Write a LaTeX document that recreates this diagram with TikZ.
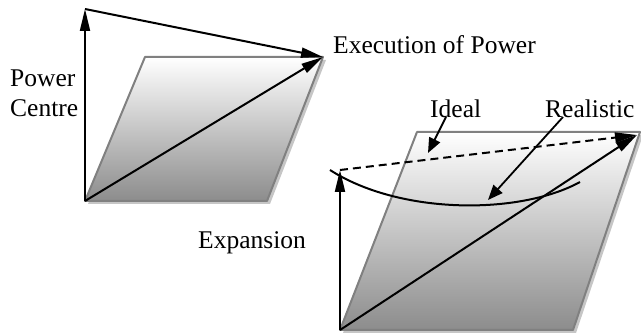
\documentclass[tikz,border=0pt]{standalone}
\usepackage{fontspec}
\setmainfont{Liberation Serif}
\usetikzlibrary{arrows.meta}

\begin{document}
\begin{tikzpicture}[
  x=1pt,y=-1pt,
  >={Triangle[length=22pt,width=10pt]},
  every node/.style={font=\fontsize{25.5}{30}\selectfont,inner sep=0pt},
  vec/.style={->,line width=2pt},
  pointer/.style={-{Triangle[length=15pt,width=12pt]},line width=1.8pt},
  plate/.style={draw=gray,line width=2pt,line join=round,
                top color=white,bottom color=black!45},
  shadowplate/.style={fill=gray!45}
]
\useasboundingbox (0,0) rectangle (641,336);

% ---- left parallelogram ----
\coordinate (la) at (85,201);
\coordinate (lb) at (267,201);
\coordinate (lc) at (323,57);
\coordinate (ld) at (145,57);
\coordinate (ltop) at (85,9);
\fill[shadowplate] ([shift={(3,3)}]la) -- ([shift={(3,3)}]lb)
  -- ([shift={(3,3)}]lc) -- ([shift={(3,3)}]ld) -- cycle;
\shadedraw[plate] (la) -- (lb) -- (lc) -- (ld) -- cycle;

% left arrows
\draw[vec] (la) -- (ltop);
\draw[vec] (ltop) -- (lc);
\draw[vec] (la) -- (lc);

% ---- right parallelogram ----
\coordinate (ra) at (340,330);
\coordinate (rb) at (573,330);
\coordinate (rc) at (640,132);
\coordinate (rd) at (417,132);
\coordinate (rtop) at (340,170);
\coordinate (rend) at (637,135);
\fill[shadowplate] ([shift={(3,3)}]ra) -- ([shift={(3,3)}]rb)
  -- ([shift={(3,3)}]rc) -- ([shift={(3,3)}]rd) -- cycle;
\shadedraw[plate] (ra) -- (rb) -- (rc) -- (rd) -- cycle;

% right arrows
\draw[vec] (ra) -- (rtop);
\draw[vec,dash pattern=on 8pt off 5pt] (rtop) -- (rend);
\draw[vec] (ra) -- (rend);

% realistic curve
\coordinate (cs) at (330,170);
\coordinate (ce) at (580,182);
\draw[line width=2pt] (cs) .. controls (400,215) and (520,215) .. (ce);

% ---- labels ----
\node[anchor=north west,align=left] (pc) at (10,70) {Power\\Centre};
\node[anchor=base west] (exec) at (333,54) {Execution of Power};
\node[anchor=base west] (expa) at (198,249) {Expansion};
\node[anchor=base west] (ideal) at (430,118) {Ideal};
\node[anchor=base west] (real) at (545,118) {Realistic};

% label pointers
\coordinate (itail) at (446,117);
\coordinate (itip) at (428,153);
\coordinate (rtail) at (563,117);
\coordinate (rtip) at (488,200);
\draw[pointer] (itail) -- (itip);
\draw[pointer] (rtail) -- (rtip);

\end{tikzpicture}
\end{document}
